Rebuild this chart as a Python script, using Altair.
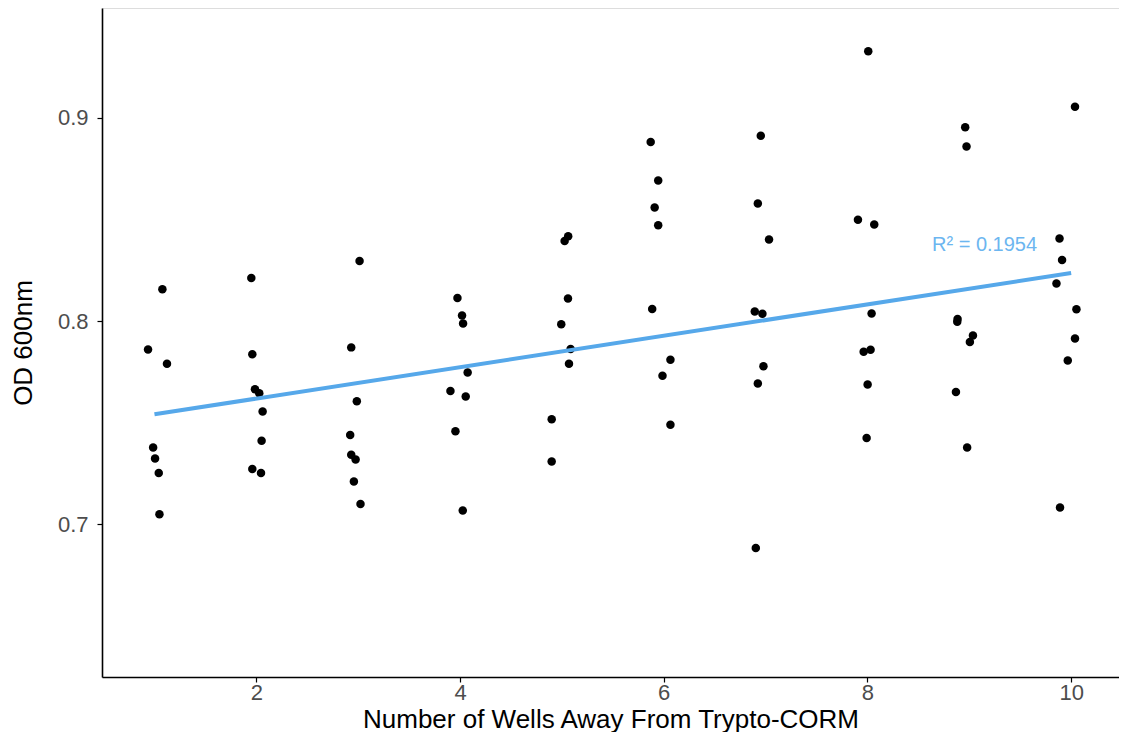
import altair as alt
import pandas as pd

well = [1]*7 + [2]*8 + [3]*8 + [4]*8 + [5]*8 + [6]*8 + [7]*8 + [8]*8 + [9]*8 + [10]*8
x_jit = [1.078, 0.937, 1.123, 0.987, 1.006, 1.042, 1.049,
         1.951, 1.961, 1.987, 2.029, 2.062, 2.052, 1.961, 2.046,
         3.014, 2.932, 2.987, 2.922, 2.932, 2.975, 2.958, 3.023,
         3.975, 4.020, 4.030, 4.075, 3.906, 4.056, 3.955, 4.027,
         5.062, 5.027, 5.060, 4.994, 5.086, 5.070, 4.900, 4.900,
         5.872, 5.946, 5.911, 5.946, 5.887, 6.066, 5.988, 6.066,
         6.953, 6.924, 7.034, 6.894, 6.969, 6.979, 6.924, 6.904,
         8.008, 7.907, 8.067, 8.041, 7.963, 8.031, 8.002, 7.992,
         8.960, 8.973, 8.885, 8.882, 9.036, 9.006, 8.869, 8.979,
         10.038, 9.886, 9.911, 9.856, 10.052, 10.038, 9.967, 9.891]
od = [0.8157, 0.7861, 0.7791, 0.7379, 0.7324, 0.7253, 0.7050,
      0.8212, 0.7837, 0.7665, 0.7646, 0.7556, 0.7412, 0.7273, 0.7253,
      0.8296, 0.7871, 0.7606, 0.7440, 0.7343, 0.7320, 0.7212, 0.7101,
      0.8114, 0.8028, 0.7989, 0.7747, 0.7657, 0.7629, 0.7459, 0.7069,
      0.8417, 0.8394, 0.8111, 0.7985, 0.7863, 0.7791, 0.7518, 0.7310,
      0.8881, 0.8692, 0.8559, 0.8472, 0.8060, 0.7810, 0.7732, 0.7490,
      0.8912, 0.8578, 0.8402, 0.8048, 0.8036, 0.7778, 0.7693, 0.6884,
      0.9327, 0.8499, 0.8475, 0.8038, 0.7850, 0.7859, 0.7688, 0.7425,
      0.8953, 0.8859, 0.8011, 0.7997, 0.7930, 0.7897, 0.7652, 0.7379,
      0.9054, 0.8407, 0.8301, 0.8185, 0.8059, 0.7915, 0.7806, 0.7083]

x_ticks = [2, 4, 6, 8, 10]
y_ticks = [0.7, 0.8, 0.9]
label_text = ["R\u00b2 = 0.1954"]
label_x = [9.15]
label_y = [0.8375]

df = pd.DataFrame({"well": well, "x": x_jit, "od": od})
lab = pd.DataFrame({"x": label_x, "y": label_y, "t": label_text})

FONT = "Liberation Sans"
BLUE = "#56A8EA"

xscale = alt.Scale(domain=[0.485, 10.47], nice=False, zero=False)
yscale = alt.Scale(domain=[0.625, 0.954], nice=False, zero=False)

common = dict(grid=False, domainColor="black", domainWidth=1.6, tickColor="black",
              tickWidth=1.2, tickSize=5, labelFontSize=22, labelColor="#4D4D4D",
              labelFont=FONT, titleFont=FONT, titleFontSize=26,
              titleFontWeight="normal", titleColor="black")

xaxis = alt.Axis(values=x_ticks, format="d", title="Number of Wells Away From Trypto-CORM",
                 labelPadding=0, titlePadding=3, **common)
yaxis = alt.Axis(values=y_ticks, format=".1f", title="OD 600nm",
                 labelPadding=9, titlePadding=21, **common)

pts = alt.Chart(df).mark_circle(size=72, color="black", opacity=1).encode(
    x=alt.X("x:Q", scale=xscale, axis=xaxis),
    y=alt.Y("od:Q", scale=yscale, axis=yaxis),
)

reg = alt.Chart(df).transform_regression("well", "od", extent=[1, 10]).mark_line(
    color=BLUE, strokeWidth=4
).encode(
    x=alt.X("well:Q", scale=xscale),
    y=alt.Y("od:Q", scale=yscale),
)

txt = alt.Chart(lab).mark_text(font=FONT, fontSize=20, color="#6CB6F0", align="center",
                                baseline="middle").encode(
    x=alt.X("x:Q", scale=xscale),
    y=alt.Y("y:Q", scale=yscale),
    text="t:N",
)

chart = alt.layer(pts, reg, txt).properties(
    width=1111, height=724,
    autosize=alt.AutoSizeParams(type="fit", contains="padding"),
    padding={"left": 2, "top": 0, "right": 0, "bottom": 0},
).configure_view(stroke=None).configure(background="white")

chart.save("out.html", embed_options={"renderer": "svg", "actions": False})
